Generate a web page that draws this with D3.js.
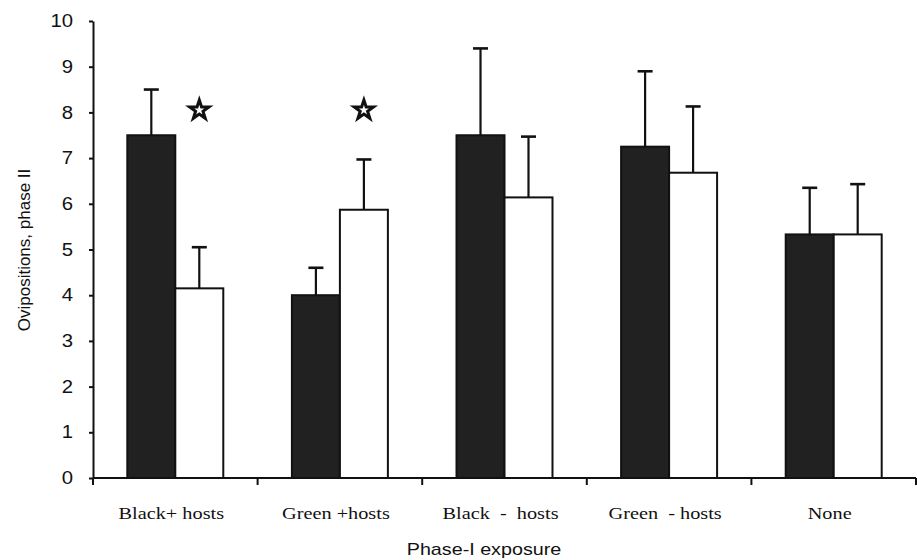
<!DOCTYPE html>
<html>
<head>
<meta charset="utf-8">
<script src="https://cdn.jsdelivr.net/npm/d3@7"></script>
<style>
  body { margin: 0; background: #fff; }
  svg { display: block; }
</style>
</head>
<body>
<script>
"use strict";

// data
var categories = ['Black+ hosts', 'Green +hosts', 'Black  -  hosts', 'Green  - hosts', 'None'];
var series = ['dark', 'white'];
var dark_values = [7.5, 4.0, 7.5, 7.25, 5.33];
var dark_errors = [1.0, 0.6, 1.9, 1.65, 1.02];
var white_values = [4.15, 5.87, 6.14, 6.68, 5.33];
var white_errors = [0.9, 1.1, 1.33, 1.45, 1.1];
var starred = [true, true, false, false, false];
var star_level = 8.05;
var y_ticks = [0, 1, 2, 3, 4, 5, 6, 7, 8, 9, 10];

var width = 917,
    height = 560;

var left = 93, right = 916, top_y = 21, bottom_y = 478;
var stretch = 1.16;   // the scanned figure is a bit wider than tall
var sans = 'Liberation Sans, Arial, sans-serif';
var serif = 'Liberation Serif, Times New Roman, serif';

var svg = d3.select('body')
  .append('svg')
  .attr('width', width)
  .attr('height', height);

var x0 = d3.scaleBand()
  .domain(categories)
  .range([left, right])
  .padding(0);

var x1 = d3.scaleBand()
  .domain(series)
  .range([0, x0.bandwidth()])
  .paddingInner(0)
  .paddingOuter(0.715);

var y = d3.scaleLinear()
  .domain([0, 10])
  .range([bottom_y, top_y]);

var rows = categories.map(function(c, i) {
  return [
    {cat: c, s: 'dark', v: dark_values[i], e: dark_errors[i]},
    {cat: c, s: 'white', v: white_values[i], e: white_errors[i]}
  ];
});
var flat = [].concat.apply([], rows);

function mid(d) { return x0(d.cat) + x1(d.s) + x1.bandwidth()/2; }

// error bars (only the upper half shows above the bars)
var err = svg.append('g').attr('class', 'errors');
err.selectAll('line.stem')
  .data(flat)
  .enter()
  .append('line')
  .attr('class', 'stem')
  .attr('x1', mid)
  .attr('x2', mid)
  .attr('y1', function(d) { return y(d.v); })
  .attr('y2', function(d) { return y(d.v + d.e); })
  .style('stroke', '#111')
  .style('stroke-width', 2.2);

err.selectAll('line.cap')
  .data(flat)
  .enter()
  .append('line')
  .attr('class', 'cap')
  .attr('x1', function(d) { return mid(d) - 7.5; })
  .attr('x2', function(d) { return mid(d) + 7.5; })
  .attr('y1', function(d) { return y(d.v + d.e); })
  .attr('y2', function(d) { return y(d.v + d.e); })
  .style('stroke', '#111')
  .style('stroke-width', 2.6);

// bars
svg.append('g')
  .attr('class', 'bars')
  .selectAll('rect')
  .data(flat)
  .enter()
  .append('rect')
  .attr('x', function(d) { return x0(d.cat) + x1(d.s); })
  .attr('y', function(d) { return y(d.v); })
  .attr('width', x1.bandwidth())
  .attr('height', function(d) { return y(0) - y(d.v); })
  .style('fill', function(d) { return d.s === 'dark' ? '#212121' : '#fff'; })
  .style('stroke', '#111')
  .style('stroke-width', 2);

// significance stars
var star = d3.symbol().type(d3.symbolStar).size(115);
svg.append('g')
  .attr('class', 'stars')
  .selectAll('path')
  .data(categories.filter(function(c, i) { return starred[i]; }))
  .enter()
  .append('path')
  .attr('d', star)
  .attr('transform', function(c) {
    return 'translate(' + (x0(c) + x1('white') + x1.bandwidth()/2) + ',' + y(star_level) + ')';
  })
  .style('fill', '#fff')
  .style('stroke', '#111')
  .style('stroke-width', 3)
  .style('stroke-linejoin', 'miter');

// y axis
var y_axis = svg.append('g')
  .attr('transform', 'translate(' + left + ',0)')
  .call(d3.axisLeft(y).tickValues(y_ticks).tickSize(4).tickPadding(16).tickSizeOuter(0));
y_axis.select('.domain').style('stroke', '#111').style('stroke-width', 2);
y_axis.selectAll('.tick line').style('stroke', '#111').style('stroke-width', 2);
y_axis.selectAll('.tick text')
  .attr('x', -20 / stretch)
  .attr('transform', 'scale(' + stretch + ',1)')
  .attr('font-family', sans)
  .attr('font-size', '17.5px')
  .attr('fill', '#111');

// x axis: ticks sit between the groups
var boundaries = categories.map(function(c) { return x0(c); }).concat([right]);
var x_axis = svg.append('g').attr('class', 'x-axis');
x_axis.append('line')
  .attr('x1', left)
  .attr('x2', right)
  .attr('y1', y(0))
  .attr('y2', y(0))
  .style('stroke', '#111')
  .style('stroke-width', 2);
x_axis.selectAll('line.tick')
  .data(boundaries)
  .enter()
  .append('line')
  .attr('class', 'tick')
  .attr('x1', function(d) { return d; })
  .attr('x2', function(d) { return d; })
  .attr('y1', y(0))
  .attr('y2', y(0) + 7)
  .style('stroke', '#111')
  .style('stroke-width', 2);
x_axis.selectAll('text')
  .data(categories)
  .enter()
  .append('text')
  .attr('transform', function(c) {
    return 'translate(' + (x0(c) + x0.bandwidth()/2 - 4) + ',519) scale(' + stretch + ',1)';
  })
  .attr('text-anchor', 'middle')
  .attr('font-family', serif)
  .attr('font-size', '17.5px')
  .attr('fill', '#111')
  .style('white-space', 'pre')
  .text(function(c) { return c; });

// axis titles
svg.append('text')
  .attr('transform', 'translate(484,555) scale(' + stretch + ',1)')
  .attr('text-anchor', 'middle')
  .attr('font-family', sans)
  .attr('font-size', '17px')
  .attr('fill', '#111')
  .text('Phase-I exposure');

svg.append('text')
  .attr('transform', 'translate(30,250) rotate(-90)')
  .attr('text-anchor', 'middle')
  .attr('font-family', sans)
  .attr('font-size', '17px')
  .attr('fill', '#111')
  .text('Ovipositions, phase II');
</script>
</body>
</html>
